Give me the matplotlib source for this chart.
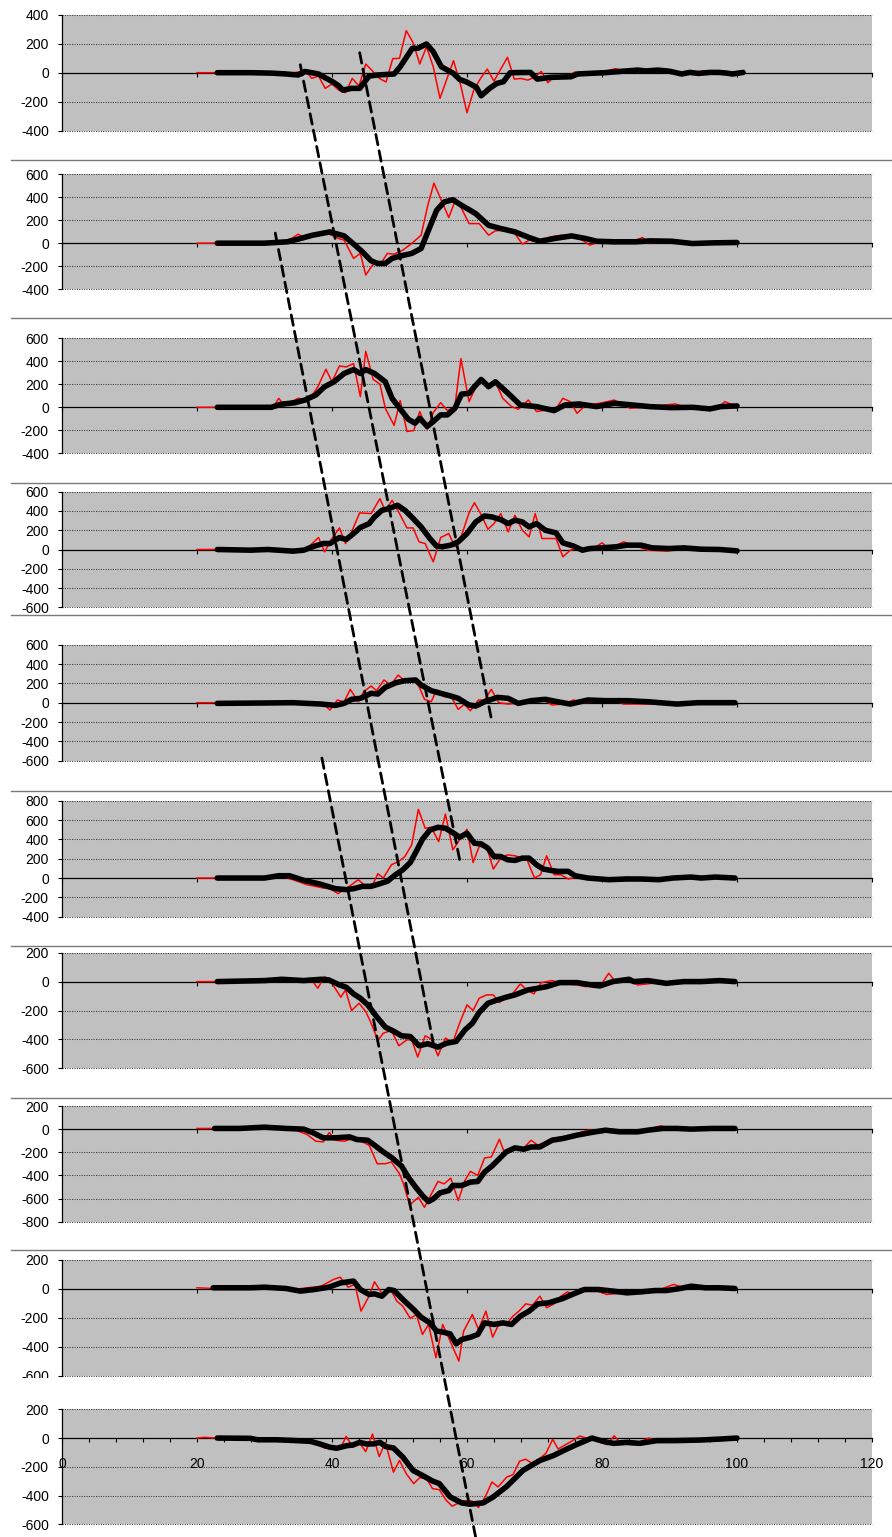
import matplotlib
matplotlib.use("Agg")
import matplotlib.pyplot as plt
from matplotlib.patches import ConnectionPatch, Rectangle
from matplotlib.lines import Line2D
from matplotlib.ticker import MultipleLocator

plt.rcParams["font.family"] = ["Liberation Sans", "DejaVu Sans"]
plt.rcParams["axes.unicode_minus"] = False

# y range of every panel, top to bottom
y_limits = [(-400, 400), (-400, 600), (-400, 600), (-600, 600), (-600, 600),
            (-400, 800), (-600, 200), (-800, 200), (-600, 200), (-600, 200)]
x_ticks = [0, 20, 40, 60, 80, 100, 120]

# (x, value) pairs: thin red = raw, thick black = smoothed
red_1 = [(20, 0), (21, 0), (22, 0), (23, 0), (26, 0), (30, 0), (31, -3), (32, -5), (33, -5), (34, -3),
         (35, 5), (36, 18), (37, -39), (38, -23), (39, -108), (40, -78), (41, -120), (42, -138),
         (43, -39), (44, -92), (45, 60), (46, 12), (47, -39), (48, -64), (49, 97), (50, 99), (51, 290),
         (52, 209), (53, 60), (54, 179), (55, 41), (56, -177), (57, -45), (58, 83), (59, -74),
         (60, -276), (61, -120), (62, -40), (63, 25), (64, -58), (65, 25), (66, 106), (67, -44),
         (68, -40), (69, -51), (70, -32), (71, 9), (72, -69), (73, -23), (74, -30), (75, -20), (76, 5),
         (77, 0), (78, -5), (79, 5), (80, 10), (81, 15), (82, 28), (83, 15), (84, 20), (85, 28),
         (86, 20), (87, 15), (88, 10), (89, 15), (90, 5), (91, 0), (92, -16), (93, -5), (94, 0),
         (95, 14), (96, 5), (97, 0), (98, 0), (99, 0), (100, 5)]
black_1 = [(23, 0), (28, 0), (31, -3), (33, -8), (35, -16), (36, 8), (37, 0), (38, -9), (39, -35),
           (40, -60), (41, -90), (41.6, -120), (42.9, -108), (44.1, -108), (45.5, -23), (46.7, -16),
           (49.2, -9), (50.1, 41), (51.9, 168), (52.7, 168), (54, 198), (55, 145), (56.2, 41), (58, -5),
           (58.9, -46), (60, -65), (61.4, -101), (62.1, -159), (63.3, -110), (64.4, -74), (65.4, -62),
           (66.4, 0), (69.4, 2), (70.4, -44), (72.4, -32), (75.4, -28), (76.4, -9), (78, -5), (80.4, 0),
           (83, 10), (85.3, 18), (86.5, 12), (88.3, 18), (90, 10), (91.8, -9), (93, 2), (94.3, -5),
           (96, 2), (97.3, 2), (98.5, -3), (99.3, -9), (100.9, 2)]

red_2 = [(20, 0), (23, 0), (28, 0), (32, 0), (33, 20), (34, 40), (35, 78), (35.8, 49), (37, 60),
         (38, 70), (39.5, 80), (40.3, 60), (41, 40), (41.8, 26), (43.2, -132), (44.2, -89), (45, -276),
         (46, -190), (47.4, -161), (48.2, -89), (49.2, -95), (50.5, -60), (51.8, -3), (53.2, 69),
         (54.2, 330), (55.1, 521), (56.2, 372), (57.3, 222), (58.3, 380), (59.2, 300), (60.3, 170),
         (61.8, 170), (63.2, 69), (64.2, 107), (65.5, 112), (67.1, 84), (68.2, -9), (69.2, 26),
         (70.8, 12), (72.4, 55), (74, 69), (76, 55), (77, 30), (78.2, -17), (79.7, 12), (81.8, -3),
         (83.9, 3), (86, 49), (87.1, -3), (89.2, 26), (91.3, 3), (93.4, -9), (95.5, -3), (97.6, 3),
         (100, 12)]
black_2 = [(23, 0), (30, 0), (33.4, 12), (35, 35), (37.1, 69), (39.7, 98), (41.8, 63), (43.4, -17),
           (44.5, -75), (45.8, -153), (46.8, -176), (47.9, -176), (48.9, -132), (50.3, -109),
           (51.8, -89), (53.2, -46), (54.2, 98), (55.5, 285), (56.6, 357), (57.9, 377), (59.2, 328),
           (60.3, 291), (61.3, 256), (63.2, 155), (65, 127), (67.1, 98), (69.2, 49), (70.8, 17),
           (72.9, 40), (75.5, 63), (77.6, 40), (79.2, 17), (81.8, 12), (85, 12), (87.1, 20), (90.3, 17),
           (93.4, -3), (96.6, 3), (100, 6)]

red_3 = [(20, 0), (25, 0), (31.3, 0), (32.1, 78), (32.9, 20), (35, 78), (36.6, 63), (37.9, 179),
         (39.1, 331), (40, 222), (41.1, 360), (42.1, 351), (43.2, 380), (44.2, 92), (45, 487),
         (46.1, 242), (47.1, 202), (47.9, -9), (49.2, -158), (50.1, 58), (51.1, -210), (52.1, -202),
         (53, -37), (54.1, -190), (55, -46), (56.1, 40), (57.1, -29), (58.2, 6), (59.1, 423), (60.3, 49),
         (61.1, 150), (62.1, 251), (63.2, 164), (64.2, 222), (65.3, 78), (66.6, 6), (67.6, -17),
         (69.1, 63), (70.3, -37), (71.8, -23), (72.9, -40), (74.2, 78), (75.3, 49), (76.3, -52),
         (77.6, 20), (79.7, 35), (81.8, 63), (84.2, -9), (87.1, 6), (90.8, 29), (93.4, -9), (97.1, -9),
         (98.2, 49), (100, 6)]
black_3 = [(23, 0), (31, 0), (32.4, 26), (34.5, 40), (36, 63), (37.6, 107), (38.9, 179), (40.3, 222),
           (41.8, 294), (43.2, 328), (44.2, 294), (45, 328), (46.3, 294), (47.9, 222), (48.9, 78),
           (50.3, -29), (51.3, -104), (52.3, -138), (53, -95), (54.1, -167), (55, -124), (56.1, -66),
           (57.1, -66), (58.2, -9), (59.2, 115), (60.3, 121), (61.1, 179), (62.1, 242), (63.2, 179),
           (64.2, 222), (66.1, 121), (67.9, 20), (70.3, 6), (72.9, -29), (74.5, 20), (76.6, 29),
           (79.2, 6), (81.8, 35), (84.5, 20), (87.1, 6), (90.3, -3), (93.4, 0), (96, -14), (97.6, 6),
           (100, 12)]

red_4 = [(20, 0), (25, 0), (30, 0), (35.8, 0), (36.8, 45), (38, 124), (38.9, -24), (40, 114),
         (41.1, 224), (42, 62), (42.9, 183), (44.1, 380), (45.8, 373), (47.1, 528), (47.9, 400),
         (48.9, 511), (50, 373), (51.1, 224), (52, 224), (52.9, 79), (53.8, 62), (55, -128), (56.1, 124),
         (57.3, 166), (58.2, 28), (59.2, 148), (60.3, 380), (61.1, 486), (62.1, 362), (63.1, 210),
         (64, 269), (65, 373), (66.1, 183), (67.1, 355), (68.2, 200), (69.2, 131), (70.1, 373),
         (71.1, 114), (73.2, 114), (74.2, -76), (75.3, -7), (76.3, 10), (78.7, 10), (80, 69), (81.1, 10),
         (83.2, 79), (85.3, 28), (86.8, -7), (89.5, -17), (92.1, 10), (94.7, -7), (97.4, -7), (100, -14)]
black_4 = [(23, 0), (27.9, -7), (30.5, 0), (34.2, -17), (35.8, -7), (37.4, 35), (38.7, 62), (39.7, 62),
           (41.1, 124), (42.1, 104), (43.2, 166), (44.2, 228), (45.5, 269), (46.3, 338), (47.4, 407),
           (48.4, 424), (49.7, 459), (50.8, 407), (51.8, 338), (53.2, 235), (54.5, 114), (55.5, 35),
           (56.3, 28), (57.6, 45), (58.7, 79), (60, 166), (61.3, 286), (62.6, 348), (63.7, 338),
           (65, 310), (66.1, 269), (67.1, 304), (68.2, 286), (69.2, 235), (70.3, 269), (71.6, 200),
           (73.2, 172), (74.2, 69), (75.8, 35), (77.1, -7), (78.2, 10), (80, 17), (82.1, 28), (83.7, 45),
           (85.8, 45), (87.4, 17), (90, 10), (92.1, 17), (94.7, 3), (97.4, 0), (100, -14)]

red_5 = [(20, 0), (25, 0), (30, 0), (38.5, 0), (39.7, -76), (40.8, 28), (41.8, 10), (42.7, 138),
         (43.9, 10), (44.7, 114), (45.8, 173), (46.6, 124), (47.7, 235), (48.7, 183), (49.8, 286),
         (50.8, 224), (52.1, 235), (52.9, 166), (53.7, 35), (54.7, 10), (55.5, 131), (56.6, 62),
         (57.6, 69), (58.7, -69), (59.6, -17), (60.5, -83), (61.7, 28), (62.6, 28), (63.6, 138),
         (64.7, 0), (66.1, -14), (67.4, -7), (68.9, 28), (71, 45), (72.6, -24), (74.2, -14), (75.8, 28),
         (77.4, 0), (79.5, 10), (81.1, 35), (83.2, -14), (86.8, -14), (89.5, -7), (92.1, -14),
         (94.7, -14), (97.4, -14), (99.7, 0)]
black_5 = [(23, -7), (30, -3), (34.2, 0), (38.4, -14), (40.5, -28), (41.8, -7), (42.9, 35), (44.2, 45),
           (45.8, 97), (46.8, 90), (47.9, 159), (49.5, 207), (50.8, 228), (52.4, 235), (53.2, 183),
           (54.7, 124), (56.1, 97), (57.6, 69), (58.7, 45), (60.3, -24), (61.3, -35), (62.6, 10),
           (64.5, 55), (66.1, 45), (67.6, -7), (69.5, 21), (71.6, 35), (73.4, 10), (75.3, -14),
           (77.9, 28), (80.5, 21), (83.7, 21), (86.8, 10), (91.1, -14), (94.2, 0), (97.4, 0), (99.7, 0)]

red_6 = [(20, 0), (25, 0), (30, 0), (32.1, 24), (34.2, -17), (36.3, -69), (38.7, -103), (39.7, -110),
         (40.9, -161), (41.8, -120), (42.9, -69), (43.9, -17), (45, -86), (46.1, -58), (46.8, 45),
         (47.6, 0), (48.8, 137), (49.9, 172), (50.8, 223), (51.8, 343), (52.8, 710), (53.8, 515),
         (54.7, 525), (55.8, 377), (56.8, 662), (57.9, 292), (58.9, 394), (60, 504), (60.9, 161),
         (61.8, 326), (62.9, 326), (63.9, 93), (65, 206), (66, 240), (67.1, 230), (68.2, 206),
         (68.9, 189), (70, 0), (70.9, 34), (71.8, 230), (72.9, 34), (73.9, 34), (75, -10), (76.3, 10),
         (77.9, 0), (80, -17), (81.6, -10), (83.7, 10), (85.8, -10), (88.4, -17), (91.1, 10), (93.7, 0),
         (96.8, 10), (99.7, 0)]
black_6 = [(23, 0), (30, 0), (32.1, 24), (33.7, 24), (35.8, -24), (38.2, -62), (40.5, -110),
           (42.1, -120), (43.2, -110), (44.5, -86), (45.8, -86), (47.1, -58), (48.2, -34), (49.4, 34),
           (50.5, 86), (51.6, 161), (52.6, 292), (53.4, 401), (54.5, 497), (55.7, 525), (56.8, 515),
           (57.9, 470), (58.9, 422), (60, 463), (61.1, 360), (62.1, 353), (63.1, 309), (64, 223),
           (65, 223), (66, 189), (67.1, 182), (68.2, 206), (69.2, 206), (70.3, 137), (71.3, 93),
           (72.4, 79), (73.4, 69), (75, 69), (76, 24), (77.9, 0), (81, -17), (83.7, -10), (85.8, -10),
           (88.4, -17), (90.5, 0), (93.2, 10), (94.7, 0), (96.8, 10), (99.7, 0)]

red_7 = [(20, 0), (25, 0), (30, 0), (35, 5), (36.8, 23), (37.9, -46), (38.9, 35), (40, -12),
         (41.3, -108), (42, -58), (42.9, -200), (44, -150), (45, -207), (45.8, -288), (46.8, -407),
         (47.6, -357), (48.8, -338), (49.9, -444), (51.1, -403), (51.8, -403), (52.7, -522),
         (53.8, -375), (54.7, -398), (55.7, -513), (56.8, -391), (57.9, -421), (58.9, -288), (60, -161),
         (60.9, -200), (61.8, -115), (62.9, -92), (63.9, -92), (64.8, -145), (65.8, -104), (66.8, -81),
         (67.9, -16), (68.9, -58), (69.9, -85), (71, -7), (72.6, 7), (74.2, -12), (76.3, -23),
         (77.6, -35), (78.9, -23), (80, -12), (81, 58), (82.1, -7), (83.7, 12), (85.3, -23), (88.4, -7),
         (92.1, -7), (95.8, 12), (99.7, 0)]
black_7 = [(23, 0), (30, 7), (32.6, 16), (35.8, 7), (38.4, 16), (39.5, 12), (41.1, -23), (42.1, -39),
           (43.2, -85), (44.2, -115), (45.3, -161), (46.6, -242), (47.9, -315), (49.2, -345),
           (50.3, -375), (51.6, -380), (52.9, -444), (54.2, -430), (55.7, -453), (57, -426),
           (58.4, -414), (59.7, -334), (60.8, -288), (61.8, -214), (63.1, -150), (64.5, -127),
           (65.8, -108), (67.1, -92), (69, -58), (70.5, -46), (71.8, -35), (73.7, -7), (76.3, -7),
           (78.4, -23), (79.7, -30), (81.6, 0), (84, 16), (84.7, 0), (86.8, 7), (89.5, -12), (92.1, 0),
           (94.7, 0), (97.4, 7), (99.7, 0)]

red_8 = [(20, 6), (22.4, 6), (28, 3), (34.2, 0), (36.3, -46), (37.6, -104), (38.7, -110), (39.6, -29),
         (40.5, -96), (41.8, -104), (43.2, -81), (44.5, -110), (45.5, -139), (46.7, -299), (47.9, -299),
         (48.8, -284), (50, -386), (50.6, -473), (51.5, -655), (52.8, -589), (53.7, -676), (54.6, -574),
         (55.7, -452), (56.6, -473), (57.6, -423), (58.7, -618), (59.7, -444), (60.5, -365),
         (61.6, -400), (62.6, -249), (63.6, -241), (64.8, -87), (65.6, -212), (66.8, -174),
         (68.2, -174), (69.5, -96), (70.5, -139), (71.6, -110), (72.6, -81), (74.2, -67), (76.3, -38),
         (77.9, -9), (79.5, -9), (81.6, -29), (83.7, -23), (86.3, -9), (88.7, 29), (90, 0), (92.1, 6),
         (94.7, 6), (97.4, 12), (99.7, 6)]
black_8 = [(22.6, 6), (26.3, 6), (30, 17), (33.2, 6), (35.8, 0), (37.1, -29), (38.7, -75), (40.5, -75),
           (42.6, -67), (43.7, -90), (45.3, -96), (46.3, -139), (47.6, -197), (48.9, -249),
           (50.3, -319), (51.3, -415), (52.4, -502), (53.4, -574), (54.3, -626), (55, -603), (56, -551),
           (57.3, -531), (57.9, -487), (59.2, -487), (60.5, -458), (61.6, -452), (62.6, -371),
           (63.7, -319), (64.7, -261), (65.8, -197), (67.1, -162), (68.4, -174), (69.5, -154),
           (70.8, -154), (72.6, -96), (74.2, -81), (76.3, -52), (78.4, -29), (80.5, -9), (82.6, -23),
           (85.3, -23), (86.8, -9), (89, 6), (91.1, 6), (93.2, 0), (96.3, 6), (99.7, 6)]

red_9 = [(20, 5), (22.4, 0), (28, 0), (34.2, -7), (38.4, 16), (40.2, 62), (41.2, 78), (42.4, 9),
         (43.4, 28), (44.3, -156), (45.4, -60), (46.3, 46), (47.5, -41), (48.6, 0), (49.6, -87),
         (50.5, -122), (51.6, -207), (52.5, -179), (53.4, -317), (54.3, -248), (55.4, -478),
         (56.4, -248), (57.5, -363), (58.8, -501), (59.5, -294), (60.8, -179), (61.7, -283),
         (62.8, -156), (63.8, -336), (64.7, -248), (65.8, -248), (66.8, -191), (67.7, -156),
         (68.7, -106), (69.7, -115), (70.8, -53), (71.8, -133), (72.9, -106), (73.9, -53), (74.9, -23),
         (75.8, -41), (76.8, 0), (78.7, -7), (80.7, -41), (83.3, -30), (86, -18), (88.6, -7),
         (90.6, 28), (92.3, 5), (94.9, 9), (97.6, 5), (100, 0)]
black_9 = [(22.4, 5), (27.9, 5), (30, 9), (33.2, 0), (35.3, -18), (37.4, -7), (39.5, 9), (41.3, 39),
           (43.2, 51), (44.2, -7), (45.5, -41), (46.3, -37), (47.4, -53), (48.4, -7), (49.2, -14),
           (50.5, -76), (52.1, -145), (53.2, -198), (54.5, -237), (55.5, -294), (56.3, -299),
           (57.5, -313), (58.4, -382), (59.2, -352), (60.5, -336), (61.6, -317), (62.6, -237),
           (64, -248), (65.3, -237), (66.6, -248), (67.9, -191), (69.2, -156), (70.5, -106),
           (72.1, -99), (74.2, -69), (75.8, -37), (77.4, -7), (79.5, -7), (81.6, -18), (83.7, -30),
           (85.8, -23), (87.9, -14), (89.5, -14), (91.6, 0), (93.2, 16), (95.3, 5), (97.4, 5), (99.7, 0)]

red_10 = [(20, 0), (21.1, 5), (22.8, 0), (28, 0), (31.9, -18), (33.8, -30), (35.8, -18), (37.7, -41),
          (39, -71), (40.2, -64), (41.2, -76), (42.1, 12), (43.1, -64), (44, -30), (45, -94), (46, 28),
          (47, -129), (47.9, -30), (49.1, -237), (50, -156), (51, -248), (52.1, -317), (53, -276),
          (54, -283), (54.9, -352), (55.9, -359), (56.9, -432), (57.8, -474), (59.4, -437),
          (60.7, -437), (61.7, -483), (62.7, -409), (63.7, -306), (64.6, -340), (65.9, -271),
          (66.8, -255), (67.8, -161), (68.7, -147), (69.6, -175), (70.7, -145), (71.7, -106),
          (72.7, -9), (73.5, -76), (74.8, -41), (75.8, -14), (76.7, 14), (77.7, 0), (78.7, 5),
          (79.8, -30), (80.8, -46), (81.8, 16), (82.9, -41), (84.6, -46), (86.9, 0), (88.1, -18),
          (90.6, -14), (93.5, -14), (97, -7), (100, 0)]
black_10 = [(23, 0), (27.9, -2), (29, -12), (31.9, -12), (34.8, -18), (36.8, -23), (38.2, -41),
            (39.7, -64), (40.7, -71), (42.2, -53), (43.1, -48), (44.1, -30), (45.1, -41), (46.1, -41),
            (47.1, -30), (48, -60), (49.1, -69), (50.5, -133), (52, -225), (53.4, -260), (54.9, -299),
            (55.9, -317), (57.5, -409), (59.2, -451), (60.4, -460), (62.4, -451), (63.9, -409),
            (65.9, -336), (68.3, -225), (70.8, -156), (72.8, -122), (74.8, -76), (76.2, -46),
            (78.5, 0), (80.2, -23), (81.7, -37), (83.7, -30), (85.6, -37), (88.1, -18), (90.6, -18),
            (94.5, -14), (97.5, -7), (100, 0)]

red_series = [red_1, red_2, red_3, red_4, red_5, red_6, red_7, red_8, red_9, red_10]
black_series = [black_1, black_2, black_3, black_4, black_5, black_6, black_7, black_8, black_9, black_10]

# dashed guide lines: (start panel, x, value) -> (end panel, x, value)
guide_lines = [(0, 35.3, 55, 5, 59.0, 158),
               (0, 44.1, 138, 4, 63.7, -200),
               (1, 31.6, 87, 6, 55.0, -424),
               (4, 38.5, -572, 9, 61.3, -694)]

# layout in pixels
W, H = 892, 1537
panel_px = [(14.7, 130.7), (174, 289.3), (338.3, 453.3), (491.7, 607.3), (644.7, 760.7),
            (800.7, 916.7), (952.7, 1068.3), (1106, 1221.7), (1259.5, 1375.5), (1409.3, 1524.3)]
separators_px = [160, 318, 483, 615, 791, 946, 1098, 1250]

fig = plt.figure(figsize=(W / 100, H / 100), dpi=100)

axes = []
for i, (top, bot) in enumerate(panel_px):
    ax = fig.add_axes([62 / W, 1 - bot / H, 810 / W, (bot - top) / H])
    lo, hi = y_limits[i]
    ax.set_facecolor("#C0C0C0")
    ax.set_xlim(0, 120)
    ax.set_ylim(lo, hi)

    for v in range(lo, hi + 1, 200):
        if v != 0:
            ax.axhline(v, color="#3a3a3a", lw=0.75, ls=(0, (1, 1.3)), zorder=1, clip_on=False)

    rx, ry = zip(*red_series[i])
    bx, by = zip(*black_series[i])
    ax.plot(rx, ry, color="#FF0000", lw=1.1, zorder=3)
    ax.plot(bx, by, color="black", lw=4.0, solid_capstyle="round",
            solid_joinstyle="round", zorder=4)

    for side in ["top", "right"]:
        ax.spines[side].set_visible(False)
    ax.spines["left"].set_color("black")
    ax.spines["left"].set_linewidth(0.9)
    ax.spines["bottom"].set_position(("data", 0))
    ax.spines["bottom"].set_color("black")
    ax.spines["bottom"].set_linewidth(0.9)

    ax.set_yticks(range(lo, hi + 1, 200))
    ax.tick_params(axis="y", direction="out", length=3, width=0.8, labelsize=10, pad=6.5)
    ax.set_xticks(x_ticks)
    if i < len(panel_px) - 1:
        ax.tick_params(axis="x", direction="out", length=3, width=0.8, labelbottom=False)
    else:
        ax.xaxis.set_minor_locator(MultipleLocator(4))
        ax.tick_params(axis="x", which="both", direction="out", length=3, width=0.8,
                       labelsize=10, pad=11)
        ax.set_zorder(2)
    axes.append(ax)

# separate chart frames
for y in separators_px:
    fig.add_artist(Line2D([11 / W, 1], [1 - y / H, 1 - y / H], transform=fig.transFigure,
                          color="#7a7a7a", lw=1.0))
# last chart frame covers the bottom of the one above it
fig.add_artist(Rectangle((0, 0), 1, 1 - 1378 / H, transform=fig.transFigure,
                         facecolor="white", edgecolor="none", zorder=1))

for pa, xa, ya, pb, xb, yb in guide_lines:
    con = ConnectionPatch(xyA=(xa, ya), coordsA=axes[pa].transData,
                          xyB=(xb, yb), coordsB=axes[pb].transData,
                          color="black", lw=2.0, linestyle=(0, (3.8, 2.2)))
    con.set_zorder(5)
    fig.add_artist(con)

fig.savefig("out.png", dpi=100)
